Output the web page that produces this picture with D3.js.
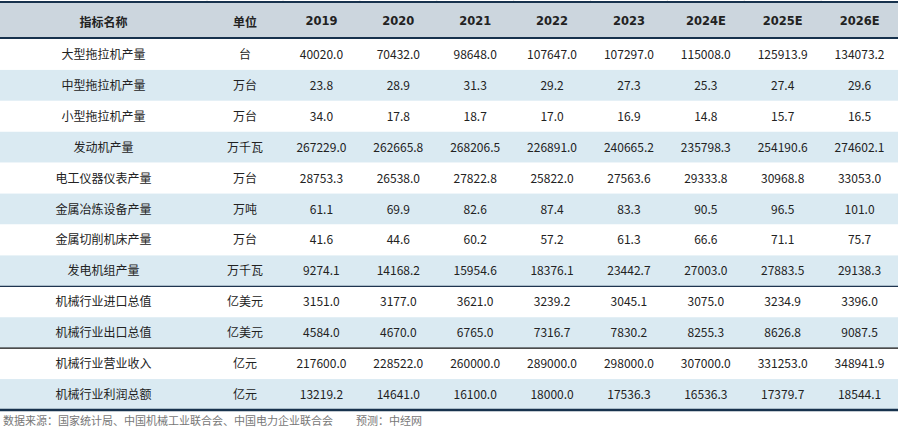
<!DOCTYPE html>
<html><head><meta charset="utf-8">
<script src="https://cdn.jsdelivr.net/npm/d3@7/dist/d3.min.js"></script>
<style>
html,body{margin:0;padding:0;background:#fff;}
svg{display:block;}
</style></head>
<body>
<svg id="chart" width="900" height="430"></svg>
<script>
const headers = ["指标名称", "单位", "2019", "2020", "2021", "2022", "2023", "2024E", "2025E", "2026E"];
const years = ["2019", "2020", "2021", "2022", "2023", "2024E", "2025E", "2026E"];
const indicators = ["大型拖拉机产量", "中型拖拉机产量", "小型拖拉机产量", "发动机产量", "电工仪器仪表产量", "金属冶炼设备产量", "金属切削机床产量", "发电机组产量", "机械行业进口总值", "机械行业出口总值", "机械行业营业收入", "机械行业利润总额"];
const units = ["台", "万台", "万台", "万千瓦", "万台", "万吨", "万台", "万千瓦", "亿美元", "亿美元", "亿元", "亿元"];
const largeTractor = [40020.0, 70432.0, 98648.0, 107647.0, 107297.0, 115008.0, 125913.9, 134073.2];
const midTractor = [23.8, 28.9, 31.3, 29.2, 27.3, 25.3, 27.4, 29.6];
const smallTractor = [34.0, 17.8, 18.7, 17.0, 16.9, 14.8, 15.7, 16.5];
const engine = [267229.0, 262665.8, 268206.5, 226891.0, 240665.2, 235798.3, 254190.6, 274602.1];
const meters = [28753.3, 26538.0, 27822.8, 25822.0, 27563.6, 29333.8, 30968.8, 33053.0];
const smelting = [61.1, 69.9, 82.6, 87.4, 83.3, 90.5, 96.5, 101.0];
const machineTools = [41.6, 44.6, 60.2, 57.2, 61.3, 66.6, 71.1, 75.7];
const generators = [9274.1, 14168.2, 15954.6, 18376.1, 23442.7, 27003.0, 27883.5, 29138.3];
const imports = [3151.0, 3177.0, 3621.0, 3239.2, 3045.1, 3075.0, 3234.9, 3396.0];
const exports_ = [4584.0, 4670.0, 6765.0, 7316.7, 7830.2, 8255.3, 8626.8, 9087.5];
const revenue = [217600.0, 228522.0, 260000.0, 289000.0, 298000.0, 307000.0, 331253.0, 348941.9];
const profit = [13219.2, 14641.0, 16100.0, 18000.0, 17536.3, 16536.3, 17379.7, 18544.1];
const seriesValues = [largeTractor, midTractor, smallTractor, engine, meters, smelting, machineTools, generators, imports, exports_, revenue, profit];
const sourceNote = "数据来源：国家统计局、中国机械工业联合会、中国电力企业联合会";
const forecastNote = "预测：中经网";

const svg = d3.select("#chart");
const tableLeft = 0, tableRight = 898;
const headerTop = 3, headerBottom = 39, tableBottom = 410;
const nameW = 207, unitW = 76;

const dataX = d3.scaleBand().domain(years).range([nameW + unitW, tableRight]);
const colCenter = (i) => i === 0 ? nameW / 2 : (i === 1 ? nameW + unitW / 2 : dataX(headers[i]) + dataX.bandwidth() / 2);
const rowY = d3.scaleBand().domain(d3.range(indicators.length)).range([headerBottom, tableBottom]);

const font = "'Noto Sans CJK SC', 'Noto Sans', sans-serif";

// faint column separators above top border
const seps = [nameW, nameW + unitW].concat(years.slice(1).map(y => dataX(y)));
svg.selectAll("line.sep").data(seps).enter().append("line")
  .attr("x1", d => d).attr("x2", d => d).attr("y1", 0).attr("y2", headerTop)
  .attr("stroke", "#e4e4e4").attr("stroke-width", 1);

// header background
svg.append("rect").attr("x", tableLeft).attr("y", headerTop).attr("width", tableRight - tableLeft).attr("height", headerBottom - headerTop).attr("fill", "#ccd6de");

// row backgrounds
svg.selectAll("rect.row").data(indicators).enter().append("rect")
  .attr("x", tableLeft).attr("y", (d, i) => rowY(i)).attr("width", tableRight - tableLeft).attr("height", rowY.bandwidth())
  .attr("fill", (d, i) => i % 2 === 1 ? "#daeaf2" : "#ffffff");

// header text
svg.selectAll("text.hdr").data(headers).enter().append("text")
  .attr("x", (d, i) => colCenter(i)).attr("y", (headerTop + headerBottom) / 2)
  .attr("text-anchor", "middle").attr("dominant-baseline", "central")
  .attr("font-family", (d, i) => i < 2 ? font : "Verdana, 'DejaVu Sans', sans-serif")
  .attr("font-weight", "bold").attr("font-size", (d, i) => i < 2 ? 12 : 11.5)
  .attr("fill", "#222").text(d => d);

// body text
const rows = svg.selectAll("g.r").data(indicators).enter().append("g")
  .attr("transform", (d, i) => `translate(0,${rowY(i) + rowY.bandwidth() / 2 - 1})`);
rows.each(function (name, ri) {
  const cells = [name, units[ri]].concat(seriesValues[ri].map(v => v.toFixed(1)));
  d3.select(this).selectAll("text").data(cells).enter().append("text")
    .attr("x", (d, i) => colCenter(i)).attr("y", 0)
    .attr("text-anchor", "middle").attr("dominant-baseline", "central")
    .attr("font-family", font).attr("font-size", 12).attr("fill", "#222").text(d => d);
});

// lines
svg.append("line").attr("x1", tableLeft).attr("x2", tableRight).attr("y1", headerTop - 1).attr("y2", headerTop - 1).attr("stroke", "#17324d").attr("stroke-width", 2.2);
svg.append("line").attr("x1", tableLeft).attr("x2", tableRight).attr("y1", headerBottom - 1).attr("y2", headerBottom - 1).attr("stroke", "#17324d").attr("stroke-width", 2.2);
svg.append("line").attr("x1", tableLeft).attr("x2", tableRight).attr("y1", rowY(8)).attr("y2", rowY(8)).attr("stroke", "#1f3550").attr("stroke-width", 1.3);
svg.append("line").attr("x1", tableLeft).attr("x2", tableRight).attr("y1", rowY(10)).attr("y2", rowY(10)).attr("stroke", "#111").attr("stroke-width", 1.3);
svg.append("line").attr("x1", tableLeft).attr("x2", tableRight).attr("y1", tableBottom).attr("y2", tableBottom).attr("stroke", "#17324d").attr("stroke-width", 2.5);

// footer
const foot = svg.append("text").attr("x", 3).attr("y", 420).attr("dominant-baseline", "central")
  .attr("font-family", font).attr("font-size", 11).attr("fill", "#777");
foot.append("tspan").text(sourceNote);
foot.append("tspan").attr("x", 356).text(forecastNote);
</script>
</body></html>
